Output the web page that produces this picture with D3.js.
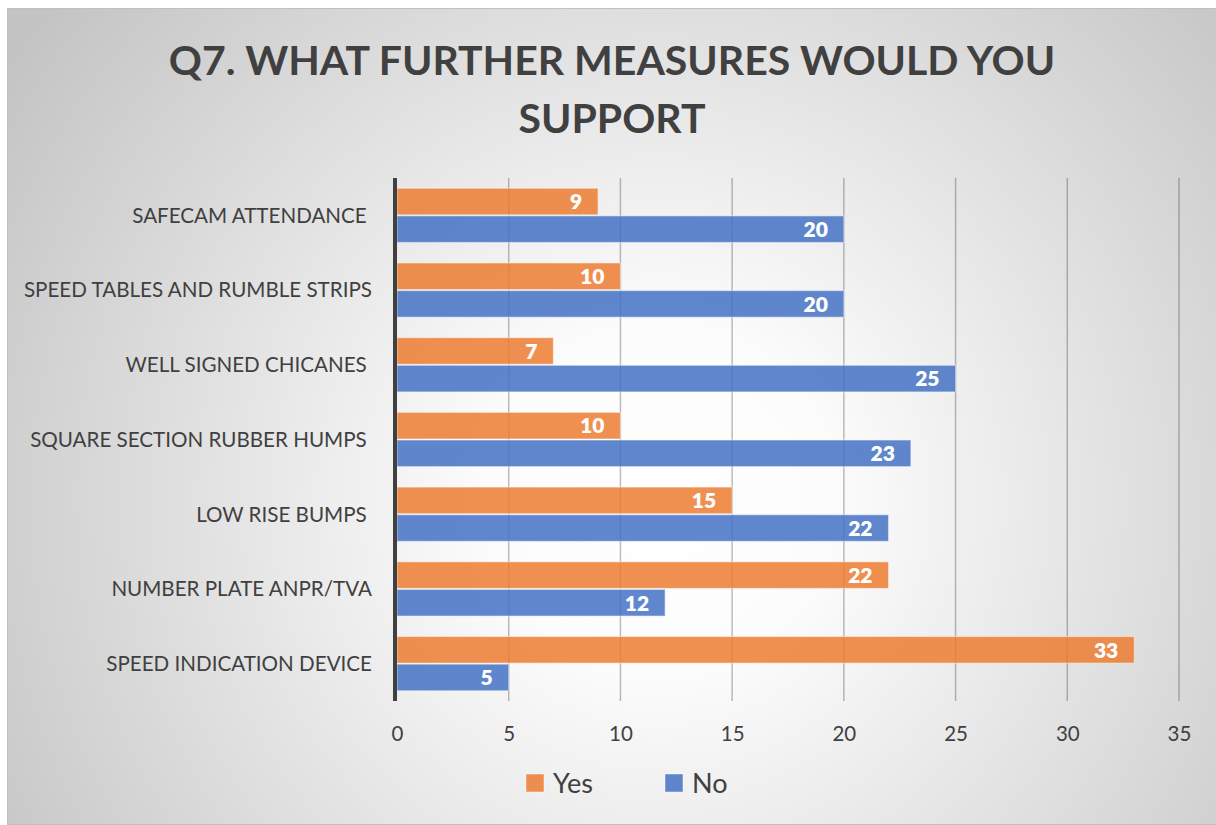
<!DOCTYPE html>
<html>
<head>
<meta charset="utf-8">
<script src="https://cdn.jsdelivr.net/npm/d3@7/dist/d3.min.js"></script>
<style>
  html, body { margin: 0; padding: 0; background: #ffffff; }
  svg { display: block; }
  text { font-family: Lato, "Open Sans", sans-serif; }
</style>
</head>
<body>
<svg id="chart" width="1216" height="825"></svg>
<script>
// Survey answers: support for further traffic-calming measures
const categories = [
  "SAFECAM ATTENDANCE ",
  "SPEED TABLES AND RUMBLE STRIPS",
  "WELL SIGNED CHICANES ",
  "SQUARE SECTION RUBBER HUMPS ",
  "LOW RISE BUMPS ",
  "NUMBER PLATE ANPR/TVA",
  "SPEED INDICATION DEVICE"
];
const yesValues = [9, 10, 7, 10, 15, 22, 33];
const noValues  = [20, 20, 25, 23, 22, 12, 5];
const seriesNames = ["Yes", "No"];
const xTicks = [0, 5, 10, 15, 20, 25, 30, 35];
const titleLines = ["Q7. WHAT FURTHER MEASURES WOULD YOU", "SUPPORT"];

const colors = { Yes: "#ED7D31", No: "#4472C4" };
const textColor = "#404040";

const svg = d3.select("#chart");
const W = 1216, H = 825;

// background panel with a soft radial shading
const defs = svg.append("defs");
const grad = defs.append("radialGradient")
  .attr("id", "bg")
  .attr("gradientUnits", "userSpaceOnUse")
  .attr("cx", 660).attr("cy", 500).attr("r", 780);
grad.append("stop").attr("offset", "0").attr("stop-color", "#ffffff");
grad.append("stop").attr("offset", "0.22").attr("stop-color", "#fcfcfc");
grad.append("stop").attr("offset", "1").attr("stop-color", "#c4c4c4");

svg.append("rect")
  .attr("x", 7.5).attr("y", 8.5)
  .attr("width", W - 7).attr("height", 816)
  .attr("fill", "url(#bg)")
  .attr("stroke", "#c0c0c0").attr("stroke-width", 1);

// title
const title = svg.append("text")
  .attr("text-anchor", "middle")
  .attr("font-weight", 700)
  .attr("font-size", 41)
  .attr("fill", textColor);
titleLines.forEach((line, i) => {
  title.append("tspan")
    .attr("x", 612)
    .attr("y", 75 + i * 58)
    .text(line);
});

// plot area
const plot = { left: 397, right: 1179, top: 178, bottom: 701 };

const x = d3.scaleLinear()
  .domain([0, 35])
  .range([plot.left, plot.right]);

const y = d3.scaleBand()
  .domain(categories)
  .range([plot.top, plot.bottom])
  .paddingInner(0.26)
  .paddingOuter(0.13);

const ySub = d3.scaleBand()
  .domain(seriesNames)
  .range([0, y.bandwidth()]);

// vertical gridlines
svg.append("g")
  .selectAll("line")
  .data(xTicks.filter(t => t > 0))
  .join("line")
  .attr("x1", d => x(d)).attr("x2", d => x(d))
  .attr("y1", plot.top).attr("y2", plot.bottom)
  .attr("stroke", "#000")
  .attr("stroke-opacity", 0.26)
  .attr("stroke-width", 1.5);

// x tick labels
const xAxis = d3.axisBottom(x).tickValues(xTicks).tickSize(0).tickPadding(0);
const gx = svg.append("g")
  .attr("transform", `translate(0,${plot.bottom})`)
  .call(xAxis);
gx.select(".domain").remove();
gx.selectAll("text")
  .attr("y", 40)
  .attr("dy", null)
  .attr("font-size", 20.5)
  .attr("font-family", "Lato, 'Open Sans', sans-serif")
  .attr("fill", textColor);

// category labels
const yAxis = d3.axisLeft(y).tickSize(0).tickPadding(0);
const gy = svg.append("g")
  .attr("transform", `translate(${plot.left - 25},0)`)
  .call(yAxis);
gy.select(".domain").remove();
gy.selectAll("text")
  .attr("x", 0)
  .attr("dy", "0.36em")
  .attr("font-size", 20.6)
  .attr("font-family", "Lato, 'Open Sans', sans-serif")
  .style("white-space", "pre")
  .attr("fill", textColor);

// bars
const rows = categories.map((c, i) => ({
  category: c,
  values: [
    { series: "Yes", value: yesValues[i] },
    { series: "No", value: noValues[i] }
  ]
}));

const groups = svg.append("g")
  .selectAll("g")
  .data(rows)
  .join("g")
  .attr("transform", d => `translate(0,${y(d.category)})`);

groups.selectAll("rect")
  .data(d => d.values)
  .join("rect")
  .attr("x", x(0))
  .attr("y", d => ySub(d.series) + 0.5)
  .attr("width", d => x(d.value) - x(0))
  .attr("height", ySub.bandwidth() - 1)
  .attr("fill", d => colors[d.series])
  .attr("fill-opacity", 0.85)
  .attr("stroke", "#ffffff")
  .attr("stroke-opacity", 0.45)
  .attr("stroke-width", 1.2);

groups.selectAll("text")
  .data(d => d.values)
  .join("text")
  .attr("x", d => x(d.value) - 16)
  .attr("y", d => ySub(d.series) + ySub.bandwidth() / 2)
  .attr("dy", "0.37em")
  .attr("text-anchor", "end")
  .attr("font-size", 21)
  .attr("font-weight", 800)
  .attr("fill", "#ffffff")
  .text(d => d.value);

// value axis line at zero
svg.append("line")
  .attr("x1", x(0) - 2).attr("x2", x(0) - 2)
  .attr("y1", plot.top).attr("y2", plot.bottom)
  .attr("stroke", textColor)
  .attr("stroke-width", 4);

// legend
const legend = svg.append("g").attr("transform", "translate(526,774)");
const legendItems = legend.selectAll("g")
  .data(seriesNames)
  .join("g")
  .attr("transform", (d, i) => `translate(${i * 139},0)`);
legendItems.append("rect")
  .attr("width", 18).attr("height", 18)
  .attr("fill", d => colors[d])
  .attr("fill-opacity", 0.85)
  .attr("stroke", "#ffffff").attr("stroke-opacity", 0.45);
legendItems.append("text")
  .attr("x", 27).attr("y", 19)
  .attr("font-size", 27)
  .attr("fill", textColor)
  .text(d => d);
</script>
</body>
</html>
